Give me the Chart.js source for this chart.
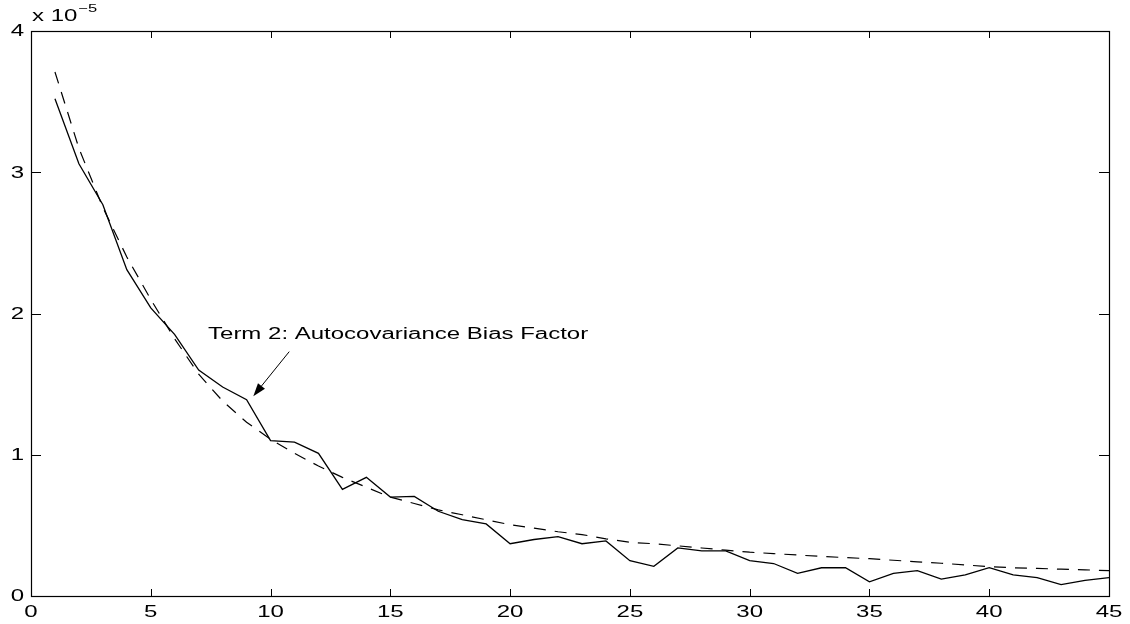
<!DOCTYPE html>
<html>
<head>
<meta charset="utf-8">
<script src="https://cdn.jsdelivr.net/npm/chart.js@4"></script>
<style>
  html, body { margin: 0; padding: 0; background: #fff; }
  canvas { display: block; }
</style>
</head>
<body>
<canvas id="chart" width="1130" height="624"></canvas>
<script>
// lag index
const lags = [1, 2, 3, 4, 5, 6, 7, 8, 9, 10, 11, 12, 13, 14, 15, 16, 17, 18, 19, 20,
  21, 22, 23, 24, 25, 26, 27, 28, 29, 30, 31, 32, 33, 34, 35, 36, 37, 38, 39, 40,
  41, 42, 43, 44, 45];

// measured bias term (units of 1e-5)
const measured = [3.52, 3.06, 2.77, 2.31, 2.04, 1.85, 1.60, 1.48, 1.39, 1.10,
  1.09, 1.01, 0.755, 0.84, 0.70, 0.705, 0.60, 0.54, 0.51, 0.37,
  0.40, 0.42, 0.37, 0.39, 0.25, 0.21, 0.34, 0.32, 0.32, 0.25,
  0.23, 0.16, 0.20, 0.20, 0.10, 0.16, 0.18, 0.12, 0.15, 0.20,
  0.15, 0.13, 0.08, 0.11, 0.13];

// predicted bias factor (units of 1e-5)
const predicted = [3.71, 3.17, 2.75, 2.40, 2.10, 1.82, 1.57, 1.38, 1.23, 1.11,
  1.01, 0.92, 0.84, 0.77, 0.70, 0.655, 0.61, 0.575, 0.54, 0.505,
  0.48, 0.455, 0.435, 0.405, 0.38, 0.37, 0.355, 0.34, 0.325, 0.31,
  0.30, 0.29, 0.28, 0.272, 0.264, 0.253, 0.242, 0.232, 0.22, 0.207,
  0.20, 0.195, 0.19, 0.185, 0.18];

const xTicks = [0, 5, 10, 15, 20, 25, 30, 35, 40, 45];
const yTicks = [0, 1, 2, 3, 4];
const exponentLabel = ["x 10", "\u22125"];
const noteText = "Term 2: Autocovariance Bias Factor";

// annotation placement in data units
const notePos = { x: 7.39, y: 1.82 };
const arrowTail = { x: 10.78, y: 1.73 };
const arrowTip = { x: 9.28, y: 1.415 };

const FONT = '"Liberation Sans", Arial, Helvetica, sans-serif';
const STRETCH = 1.5;

function wideText(ctx, text, x, y, size, align, baseline) {
  ctx.save();
  ctx.font = size + "px " + FONT;
  ctx.textAlign = align;
  ctx.textBaseline = baseline;
  ctx.translate(x, y);
  ctx.scale(STRETCH, 1);
  ctx.fillText(text, 0, 0);
  ctx.restore();
}

// box, inward ticks, tick labels, exponent and the arrow note
const matlabAxes = {
  id: "matlabAxes",
  afterDraw(chart) {
    const { ctx, chartArea: a, scales } = chart;
    const xs = scales.x, ys = scales.y;
    ctx.save();
    ctx.strokeStyle = "#000";
    ctx.fillStyle = "#000";
    ctx.lineWidth = 1.2;
    ctx.strokeRect(Math.round(a.left) + 0.5, Math.round(a.top) + 0.5,
      Math.round(a.right - a.left), Math.round(a.bottom - a.top));

    ctx.lineWidth = 1;
    ctx.beginPath();
    xTicks.forEach((v) => {
      const px = Math.round(xs.getPixelForValue(v)) + 0.5;
      ctx.moveTo(px, a.bottom); ctx.lineTo(px, a.bottom - 7);
      ctx.moveTo(px, a.top); ctx.lineTo(px, a.top + 7);
    });
    yTicks.forEach((v) => {
      const py = Math.round(ys.getPixelForValue(v)) + 0.5;
      ctx.moveTo(a.left, py); ctx.lineTo(a.left + 10, py);
      ctx.moveTo(a.right, py); ctx.lineTo(a.right - 10, py);
    });
    ctx.stroke();

    xTicks.forEach((v) => {
      wideText(ctx, String(v), xs.getPixelForValue(v), a.bottom + 21, 16, "center", "alphabetic");
    });
    yTicks.forEach((v) => {
      wideText(ctx, String(v), a.left - 7, ys.getPixelForValue(v) + 1, 16, "right", "middle");
    });

    // exponent above the y axis
    wideText(ctx, exponentLabel[0], a.left + 1, 21, 16, "left", "alphabetic");
    ctx.font = "16px " + FONT;
    const w = ctx.measureText(exponentLabel[0]).width * STRETCH;
    wideText(ctx, exponentLabel[1], a.left + 2 + w, 12, 11, "left", "alphabetic");

    // note text and arrow
    wideText(ctx, noteText, xs.getPixelForValue(notePos.x), ys.getPixelForValue(notePos.y),
      16, "left", "alphabetic");
    const tx = xs.getPixelForValue(arrowTail.x), ty = ys.getPixelForValue(arrowTail.y);
    const hx = xs.getPixelForValue(arrowTip.x), hy = ys.getPixelForValue(arrowTip.y);
    const ang = Math.atan2(hy - ty, hx - tx);
    const len = 13, half = 4.5;
    const bx = hx - len * Math.cos(ang), by = hy - len * Math.sin(ang);
    ctx.beginPath();
    ctx.moveTo(tx, ty);
    ctx.lineTo(bx, by);
    ctx.stroke();
    ctx.beginPath();
    ctx.moveTo(hx, hy);
    ctx.lineTo(bx + half * Math.sin(ang), by - half * Math.cos(ang));
    ctx.lineTo(bx - half * Math.sin(ang), by + half * Math.cos(ang));
    ctx.closePath();
    ctx.fill();
    ctx.restore();
  },
};

const chart = new Chart(document.getElementById("chart"), {
  type: "line",
  data: {
    datasets: [
      {
        label: "measured",
        data: lags.map((l, i) => ({ x: l, y: measured[i] })),
        borderColor: "#000",
        borderWidth: 1.3,
        pointRadius: 0,
        tension: 0,
        fill: false,
      },
      {
        label: "predicted",
        data: lags.map((l, i) => ({ x: l, y: predicted[i] })),
        borderColor: "#000",
        borderWidth: 1.2,
        borderDash: [12, 9],
        pointRadius: 0,
        tension: 0,
        fill: false,
      },
    ],
  },
  options: {
    responsive: false,
    animation: false,
    devicePixelRatio: 1,
    layout: { padding: { top: 31, right: 21, left: 0, bottom: 0 } },
    plugins: {
      legend: { display: false },
      tooltip: { enabled: false },
    },
    scales: {
      x: {
        type: "linear",
        min: 0,
        max: 45,
        grid: { display: false },
        border: { display: false },
        ticks: { display: false, stepSize: 5 },
        afterFit: (s) => { s.height = 28; },
      },
      y: {
        min: 0,
        max: 4,
        grid: { display: false },
        border: { display: false },
        ticks: { display: false, stepSize: 1 },
        afterFit: (s) => { s.width = 31; },
      },
    },
  },
  plugins: [matlabAxes],
});
</script>
</body>
</html>
